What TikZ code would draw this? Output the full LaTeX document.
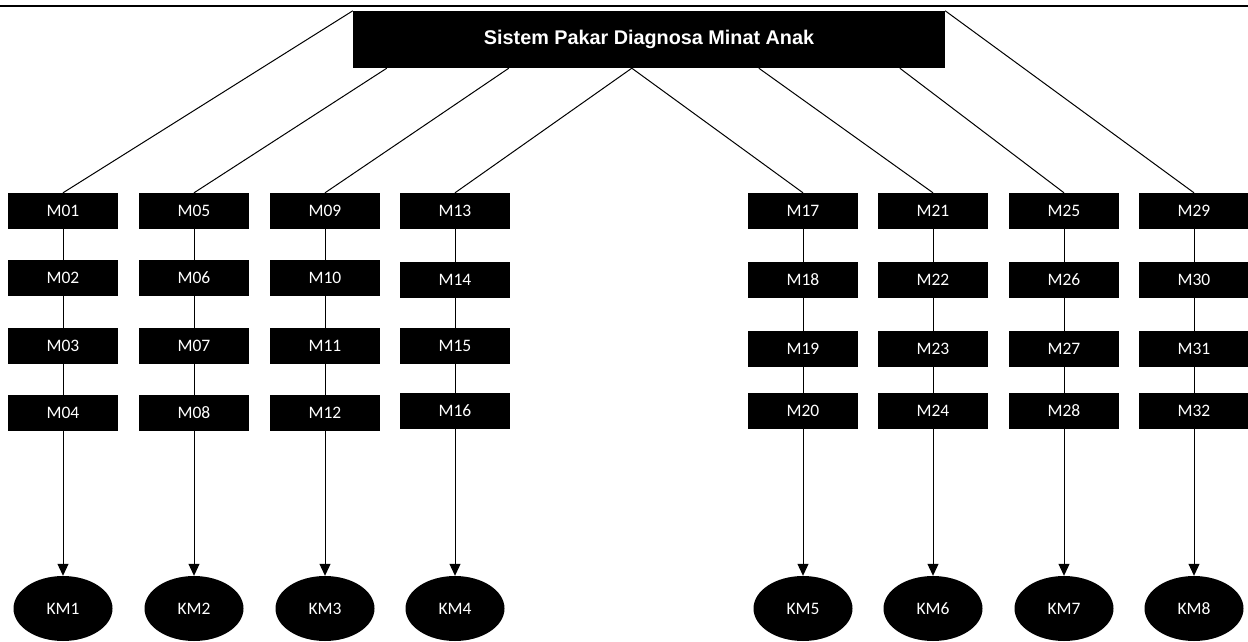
\documentclass[tikz,border=0pt]{standalone}
\usepackage{fontspec}
\setmainfont{Carlito}
\newfontfamily\titlefont{Liberation Sans}
\usetikzlibrary{arrows.meta,shapes.geometric,calc}

\begin{document}
\begin{tikzpicture}[
  x=1pt, y=-1pt,
  t/.style={fill=black, text=white, minimum width=592pt, minimum height=57pt, inner sep=0pt, font=\titlefont\bfseries\fontsize{19.8}{24}\selectfont},
  b/.style={fill=black, text=white, minimum width=110pt, minimum height=36pt, inner sep=0pt, font=\fontsize{17.5}{20}\selectfont},
  k/.style={ellipse, fill=black, text=white, minimum width=99pt, minimum height=65pt, inner sep=0pt, font=\fontsize{17.5}{20}\selectfont},
  l/.style={line width=1pt},
  a/.style={-{Triangle[length=12pt, width=11pt]}, line width=1pt}
]
\useasboundingbox (0,0) rectangle (1248,642);
\draw[line width=2.4pt] (0,6) -- (1248,6);

\node[t] (title) at (649,39.5) {Sistem Pakar Diagnosa Minat Anak};

% kolom kiri
\node[b] (m01) at (63,211) {M01};
\node[b] (m02) at (63,278) {M02};
\node[b] (m03) at (63,346) {M03};
\node[b] (m04) at (63,413) {M04};
\node[b] (m05) at (194,211) {M05};
\node[b] (m06) at (194,278) {M06};
\node[b] (m07) at (194,346) {M07};
\node[b] (m08) at (194,413) {M08};
\node[b] (m09) at (325,211) {M09};
\node[b] (m10) at (325,278) {M10};
\node[b] (m11) at (325,346) {M11};
\node[b] (m12) at (325,413) {M12};
\node[b] (m13) at (455,211) {M13};
\node[b] (m14) at (455,280) {M14};
\node[b] (m15) at (455,346) {M15};
\node[b] (m16) at (455,411) {M16};

% kolom kanan
\node[b] (m17) at (803,211) {M17};
\node[b] (m18) at (803,280) {M18};
\node[b] (m19) at (803,349) {M19};
\node[b] (m20) at (803,411) {M20};
\node[b] (m21) at (933,211) {M21};
\node[b] (m22) at (933,280) {M22};
\node[b] (m23) at (933,349) {M23};
\node[b] (m24) at (933,411) {M24};
\node[b] (m25) at (1064,211) {M25};
\node[b] (m26) at (1064,280) {M26};
\node[b] (m27) at (1064,349) {M27};
\node[b] (m28) at (1064,411) {M28};
\node[b] (m29) at (1194,211) {M29};
\node[b] (m30) at (1194,280) {M30};
\node[b] (m31) at (1194,349) {M31};
\node[b] (m32) at (1194,411) {M32};

% kesimpulan
\node[k] (km1) at (63,608.5) {KM1};
\node[k] (km2) at (194,608.5) {KM2};
\node[k] (km3) at (325,608.5) {KM3};
\node[k] (km4) at (455,608.5) {KM4};
\node[k] (km5) at (803,608.5) {KM5};
\node[k] (km6) at (933,608.5) {KM6};
\node[k] (km7) at (1064,608.5) {KM7};
\node[k] (km8) at (1194,608.5) {KM8};

% dari judul
\draw[l] (title.north west) -- (m01.north);
\draw[l] ($(title.south west)+(34,0)$) -- (m05.north);
\draw[l] ($(title.south west)+(156,0)$) -- (m09.north);
\draw[l] ($(title.south west)+(279,0)$) -- (m13.north);
\draw[l] ($(title.south west)+(279,0)$) -- (m17.north);
\draw[l] ($(title.south west)+(406,0)$) -- (m21.north);
\draw[l] ($(title.south west)+(547,0)$) -- (m25.north);
\draw[l] (title.north east) -- (m29.north);

% rantai
\draw[l] (m01) -- (m02) -- (m03) -- (m04);
\draw[l] (m05) -- (m06) -- (m07) -- (m08);
\draw[l] (m09) -- (m10) -- (m11) -- (m12);
\draw[l] (m13) -- (m14) -- (m15) -- (m16);
\draw[l] (m17) -- (m18) -- (m19) -- (m20);
\draw[l] (m21) -- (m22) -- (m23) -- (m24);
\draw[l] (m25) -- (m26) -- (m27) -- (m28);
\draw[l] (m29) -- (m30) -- (m31) -- (m32);

\draw[a] (m04) -- (km1);
\draw[a] (m08) -- (km2);
\draw[a] (m12) -- (km3);
\draw[a] (m16) -- (km4);
\draw[a] (m20) -- (km5);
\draw[a] (m24) -- (km6);
\draw[a] (m28) -- (km7);
\draw[a] (m32) -- (km8);
\end{tikzpicture}
\end{document}
